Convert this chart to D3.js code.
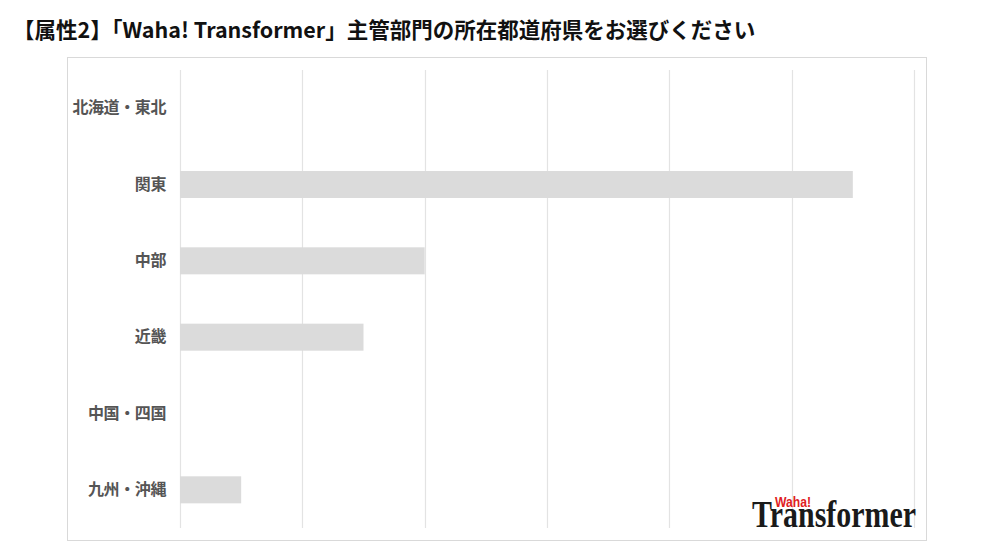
<!DOCTYPE html>
<html><head><meta charset="utf-8">
<script src="https://cdn.jsdelivr.net/npm/d3@7"></script>
<style>
html,body{margin:0;padding:0;background:#fff;}
svg{display:block;}
</style></head>
<body>
<script>
const titleText = "【属性2】「Waha! Transformer」主管部門の所在都道府県をお選びください";
const categories = ["北海道・東北","関東","中部","近畿","中国・四国","九州・沖縄"];
const values = [0, 11, 4, 3, 0, 1];
const gridTicks = [0, 2, 4, 6, 8, 10, 12];

const W = 988, H = 548;
const svg = d3.select("body").append("svg").attr("width", W).attr("height", H);

svg.append("text").attr("x", 13).attr("y", 38)
  .attr("font-family", "'Noto Sans CJK JP','Noto Sans',sans-serif")
  .attr("font-weight", "bold").attr("font-size", 21.5).attr("fill", "#111")
  .text(titleText);

svg.append("rect").attr("x", 67.5).attr("y", 57.5).attr("width", 859).attr("height", 483)
  .attr("fill", "#fff").attr("stroke", "#d9d9d9").attr("stroke-width", 1);

const x = d3.scaleLinear().domain([0, 12]).range([180, 914]);
const y = d3.scaleBand().domain(categories).range([70, 528]).paddingInner(0.646).paddingOuter(0.323);

const g = svg.append("g");
g.selectAll("line.grid").data(gridTicks).join("line").attr("class", "grid")
  .attr("x1", d => Math.round(x(d)) + 0.5).attr("x2", d => Math.round(x(d)) + 0.5)
  .attr("y1", 70).attr("y2", 528)
  .attr("stroke", "#e3e3e3").attr("stroke-width", 1.2);

g.selectAll("rect.bar").data(categories).join("rect").attr("class", "bar")
  .attr("x", x(0)).attr("y", d => y(d))
  .attr("width", (d, i) => x(values[i]) - x(0)).attr("height", y.bandwidth())
  .attr("fill", "#dbdbdb");

const yAxis = d3.axisLeft(y).tickSize(0).tickPadding(14);
const ag = svg.append("g").attr("transform", `translate(${x(0)},0)`).call(yAxis);
ag.select(".domain").remove();
ag.selectAll("text").attr("font-family", "'Noto Sans CJK JP','Noto Sans',sans-serif")
  .attr("font-weight", "bold").attr("font-size", 16).attr("fill", "#555")
  .attr("letter-spacing", -0.4);

// logo (one text element, two spans)
const logo = svg.append("text");
logo.append("tspan").attr("x", 752).attr("y", 527)
  .attr("font-family", "'Liberation Serif','DejaVu Serif',serif")
  .attr("font-weight", "bold").attr("font-size", 38).attr("fill", "#1a1a1a")
  .attr("textLength", 164).attr("lengthAdjust", "spacingAndGlyphs")
  .text("Transformer");
logo.append("tspan").attr("x", 775).attr("y", 507)
  .attr("font-family", "'Liberation Sans','Arial',sans-serif")
  .attr("font-weight", "bold").attr("font-size", 15).attr("fill", "#e0201e")
  .attr("textLength", 36).attr("lengthAdjust", "spacingAndGlyphs")
  .text("Waha!");
</script>
</body></html>
